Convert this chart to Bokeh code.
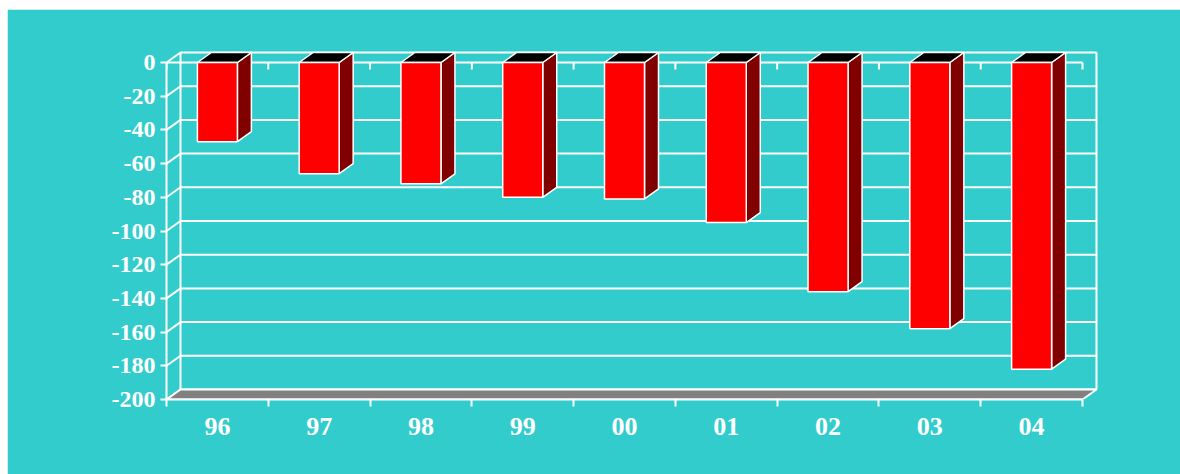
from bokeh.plotting import figure
from bokeh.models import ColumnDataSource, FixedTicker, LinearAxis, Range1d
from bokeh.embed import file_html
from bokeh.resources import INLINE

# ---------------- data ----------------
years = ["96", "97", "98", "99", "00", "01", "02", "03", "04"]
values = [-47, -66, -72, -80, -81, -95, -136, -158, -182]
y_ticks = [0, -20, -40, -60, -80, -100, -120, -140, -160, -180, -200]
y_tick_labels = ["0", "-20", "-40", "-60", "-80", "-100", "-120", "-140", "-160", "-180", "-200"]

# ---------------- layout constants ----------------
FIG_W, FIG_H = 1173, 465
BORDER_L, BORDER_R, BORDER_T, BORDER_B = 159, 80, 36, 75
FRAME_W = FIG_W - BORDER_L - BORDER_R
FRAME_H = FIG_H - BORDER_T - BORDER_B
N = len(years)
Y_MIN = -200
PX_X = 916 / N          # pixels per category
PX_Y = 337 / 200        # pixels per unit value
DX = 14 / PX_X          # depth offset (data units)
DY = 10 / PX_Y
TICK = 7 / PX_Y
HW = 20 / PX_X          # half bar width

BG = "#33CCCC"
WHITE = "#FFFFFF"
FONT = "Liberation Serif"

p = figure(width=FIG_W, height=FIG_H, output_backend="svg", toolbar_location=None,
           x_range=Range1d(0, FRAME_W / PX_X), y_range=Range1d(Y_MIN, Y_MIN + FRAME_H / PX_Y),
           min_border_left=BORDER_L, min_border_right=BORDER_R,
           min_border_top=BORDER_T, min_border_bottom=BORDER_B,
           x_axis_type=None, y_axis_type=None)
p.margin = (9, 0, 0, 7)
p.background_fill_color = BG
p.border_fill_color = BG
p.outline_line_color = BG
p.outline_line_width = 2
p.xgrid.visible = False
p.ygrid.visible = False

# back wall grid lines
p.segment(x0=[DX] * len(y_ticks), x1=[N + DX] * len(y_ticks),
          y0=[v + DY for v in y_ticks], y1=[v + DY for v in y_ticks],
          line_color=WHITE, line_width=2)
# back wall verticals
p.segment(x0=[DX, N + DX], x1=[DX, N + DX], y0=[Y_MIN + DY] * 2, y1=[DY] * 2,
          line_color=WHITE, line_width=2)
# left side diagonals
p.segment(x0=[0] * len(y_ticks), x1=[DX] * len(y_ticks),
          y0=y_ticks, y1=[v + DY for v in y_ticks], line_color=WHITE, line_width=2)
# floor
p.patch(x=[0, N, N + DX, DX], y=[Y_MIN, Y_MIN, Y_MIN + DY, Y_MIN + DY],
        fill_color="#808080", line_color=WHITE, line_width=2)
# category axis at zero with ticks
p.segment(x0=[0], x1=[N], y0=[0], y1=[0], line_color=WHITE, line_width=2)
bounds = list(range(N + 1))
p.segment(x0=bounds, x1=bounds, y0=[0] * len(bounds), y1=[-TICK] * len(bounds),
          line_color=WHITE, line_width=2)

# bars
centers = [i + 0.5 for i in range(N)]
src = ColumnDataSource(dict(
    left=[c - HW for c in centers], right=[c + HW for c in centers],
    top=[0] * N, bottom=values,
    side_x=[[c + HW, c + HW + DX, c + HW + DX, c + HW] for c in centers],
    side_y=[[0, DY, v + DY, v] for v in values],
    top_x=[[c - HW, c - HW + DX, c + HW + DX, c + HW] for c in centers],
    top_y=[[0, DY, DY, 0] for _ in centers],
))
p.patches(xs="side_x", ys="side_y", source=src, fill_color="#800000",
          line_color=WHITE, line_width=1.5)
p.patches(xs="top_x", ys="top_y", source=src, fill_color="#000000",
          line_color=WHITE, line_width=1.5)
p.quad(left="left", right="right", top="top", bottom="bottom", source=src,
       fill_color="#FF0000", line_color=WHITE, line_width=1.5)

# y axis
yax = LinearAxis(ticker=FixedTicker(ticks=y_ticks, minor_ticks=[]), bounds=(Y_MIN, 0))
yax.major_label_overrides = {t: s for t, s in zip(y_ticks, y_tick_labels)}
yax.axis_line_color = WHITE
yax.axis_line_width = 2
yax.major_tick_line_color = WHITE
yax.major_tick_line_width = 2
yax.major_tick_out = 6
yax.major_tick_in = 0
yax.minor_tick_line_color = None
yax.major_label_text_color = WHITE
yax.major_label_text_font = FONT
yax.major_label_text_font_style = "bold"
yax.major_label_text_font_size = "24px"
yax.major_label_standoff = 5
p.add_layout(yax, "left")

# x axis
xax = LinearAxis(ticker=FixedTicker(ticks=centers, minor_ticks=bounds), bounds=(0, N))
xax.major_label_overrides = {c: y for c, y in zip(centers, years)}
xax.axis_line_color = WHITE
xax.axis_line_width = 2
xax.major_tick_line_color = None
xax.major_tick_out = 0
xax.major_tick_in = 0
xax.minor_tick_line_color = WHITE
xax.minor_tick_line_width = 2
xax.minor_tick_out = 7
xax.minor_tick_in = 0
xax.major_label_text_color = WHITE
xax.major_label_text_font = FONT
xax.major_label_text_font_style = "bold"
xax.major_label_text_font_size = "26px"
xax.major_label_standoff = 11
p.add_layout(xax, "below")

open("out.html", "w").write(file_html(p, INLINE))
